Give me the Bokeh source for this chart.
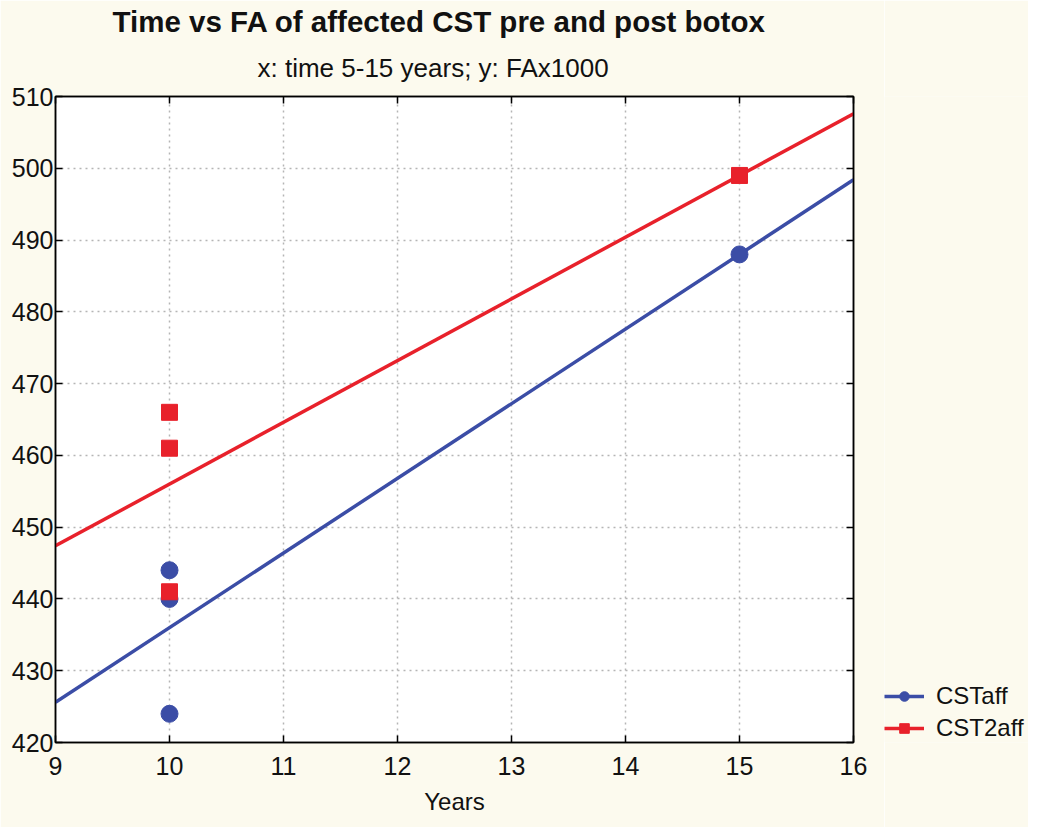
from bokeh.plotting import figure
from bokeh.layouts import row
from bokeh.models import (Range1d, LinearAxis, Title, Legend, LegendItem,
                          FixedTicker)
from bokeh.embed import file_html
from bokeh.resources import INLINE

# ---- data ----
x_cst = [10, 10, 10, 15]
y_cst = [444, 440, 424, 488]
x_cst2 = [10, 10, 10, 15]
y_cst2 = [466, 461, 441, 499]
fit_x = [9, 16]
fit_cst = [425.6, 498.4]
fit_cst2 = [447.4, 507.6]
x_ticks = [9, 10, 11, 12, 13, 14, 15, 16]
y_ticks = [420, 430, 440, 450, 460, 470, 480, 490, 500, 510]
series_labels = ["CSTaff", "CST2aff"]

BG = "#FCFAEE"
BLUE = "#3B4DA6"
RED = "#E8212B"
FONT = "Liberation Sans"

p = figure(frame_width=798, frame_height=646, output_backend="svg", toolbar_location=None,
           x_range=Range1d(9, 16), y_range=Range1d(420, 510),
           background_fill_color="white", border_fill_color=BG,
           min_border_left=55, min_border_right=31, min_border_bottom=85,
           min_border_top=96)
p.title = None
p.outline_line_color = "black"
p.outline_line_width = 1.5

sub = Title(text="x: time 5-15 years; y: FAx1000", align="left",
            text_font=FONT, text_font_size="26px", text_font_style="normal",
            text_color="#111111", offset=202, standoff=27)
main = Title(text="Time vs FA of affected CST pre and post botox", align="left",
             text_font=FONT, text_font_size="29.5px", text_font_style="bold",
             text_color="#111111", offset=57, standoff=0)

for ax in p.xaxis + p.yaxis:
    ax.major_tick_in = 7
    ax.major_tick_out = 0
    ax.minor_tick_in = 0
    ax.minor_tick_out = 0
    ax.axis_line_color = "black"
    ax.axis_line_width = 1.5
    ax.major_tick_line_width = 1.5
    ax.major_label_text_font = FONT
    ax.major_label_text_font_size = "25px"
    ax.major_label_text_color = "#111111"

p.xaxis.ticker = FixedTicker(ticks=x_ticks)
p.yaxis.ticker = FixedTicker(ticks=y_ticks)
p.xaxis.axis_label = "Years"
p.xaxis.axis_label_text_font = FONT
p.xaxis.axis_label_text_font_style = "normal"
p.xaxis.axis_label_text_font_size = "24px"
p.xaxis.axis_label_text_color = "#111111"
p.xaxis.axis_label_standoff = 10
p.xaxis.major_label_standoff = 14
p.yaxis.major_label_standoff = 2

blank_x = {t: "" for t in x_ticks}
blank_y = {t: "" for t in y_ticks}
top_ax = LinearAxis(ticker=FixedTicker(ticks=x_ticks), major_label_overrides=blank_x,
                    major_tick_in=7, major_tick_out=0, minor_tick_in=0, minor_tick_out=0,
                    axis_line_width=1.5, major_tick_line_width=1.5, major_label_standoff=0)
right_ax = LinearAxis(ticker=FixedTicker(ticks=y_ticks), major_label_overrides=blank_y,
                      major_tick_in=7, major_tick_out=0, minor_tick_in=0, minor_tick_out=0,
                      axis_line_width=1.5, major_tick_line_width=1.5, major_label_standoff=0)
p.add_layout(top_ax, "above")
p.add_layout(right_ax, "right")
p.add_layout(sub, "above")
p.add_layout(main, "above")

p.xgrid.ticker = FixedTicker(ticks=x_ticks)
p.ygrid.ticker = FixedTicker(ticks=y_ticks)
for g in (p.xgrid, p.ygrid):
    g.grid_line_color = "#B5B5B5"
    g.grid_line_dash = "2 4"
    g.grid_line_width = 1.5

p.line(fit_x, fit_cst, line_color=BLUE, line_width=3.5)
p.line(fit_x, fit_cst2, line_color=RED, line_width=3.5)
p.scatter(x_cst, y_cst, marker="circle", size=17, fill_color=BLUE, line_color=BLUE)
p.scatter(x_cst2, y_cst2, marker="square", size=16, fill_color=RED, line_color=RED)

# legend panel (separate figure next to the chart); its renderers reuse the
# series data, which lies outside this panel's ranges, so only the legend shows
lf = figure(width=144, height=827, output_backend="svg", toolbar_location=None,
            x_range=Range1d(0, 1), y_range=Range1d(0, 1),
            x_axis_location=None, y_axis_location=None,
            background_fill_color=BG, border_fill_color=BG,
            min_border_left=0, min_border_right=0, min_border_top=0,
            min_border_bottom=0, outline_line_color=None)
lf.title = None
lf.grid.visible = False
ll1 = lf.line(fit_x, fit_cst, line_color=BLUE, line_width=3.5)
ls1 = lf.scatter(x_cst, y_cst, marker="circle", size=17, fill_color=BLUE, line_color=BLUE)
ll2 = lf.line(fit_x, fit_cst2, line_color=RED, line_width=3.5)
ls2 = lf.scatter(x_cst2, y_cst2, marker="square", size=16, fill_color=RED, line_color=RED)
legend = Legend(items=[LegendItem(label=series_labels[0], renderers=[ll1, ls1]),
                       LegendItem(label=series_labels[1], renderers=[ll2, ls2])],
                location="bottom_left", background_fill_alpha=0, border_line_alpha=0,
                label_text_font=FONT, label_text_font_size="24px",
                label_text_color="#111111", glyph_width=40, glyph_height=24,
                spacing=4, padding=0, margin=0, label_standoff=12)
lf.add_layout(legend, "center")

layout = row(p, lf, spacing=0)
open("out.html", "w").write(file_html(layout, INLINE))
